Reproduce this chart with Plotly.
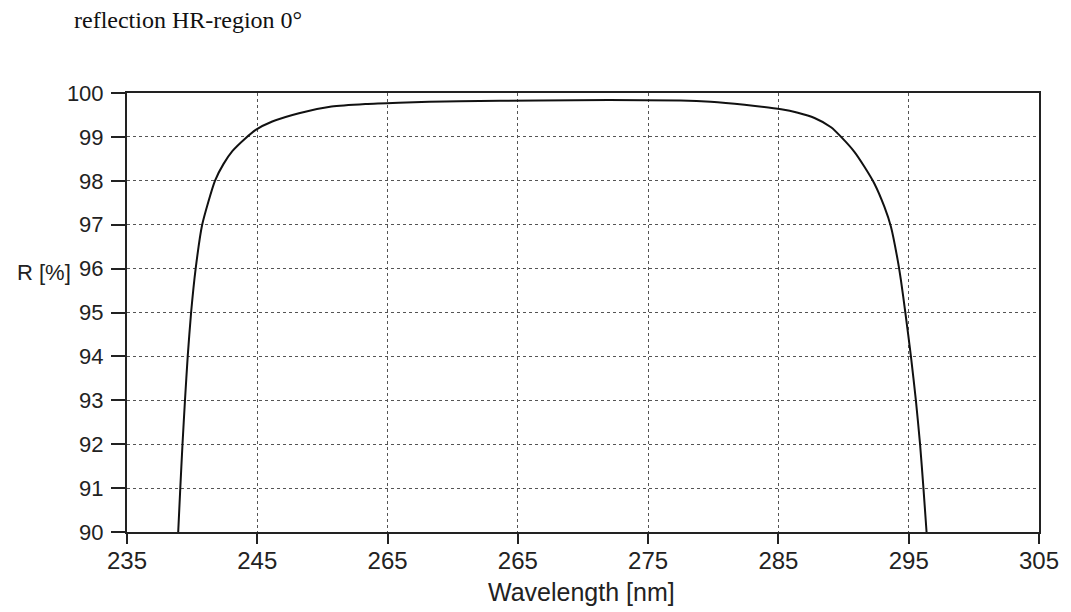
import plotly.graph_objects as go

# Wavelength [nm] and reflectance R [%]
wavelength = [238.93, 239.09, 239.26, 239.45, 239.66, 239.92, 240.27, 240.77,
              241.75, 242.4, 243.1, 244.1, 244.88, 246.15, 248.2, 250.7, 253.3,
              255.85, 258.2, 260.5, 266.6, 272.0, 277.5, 279.8, 282.4, 285.21,
              286.49, 287.77, 289.04, 289.81, 290.83, 291.6, 292.36, 293.13,
              293.64, 294.15, 294.4, 294.74, 295.17, 295.55, 295.87, 296.13, 296.37]
reflectance = [90.0, 91.0, 92.0, 93.0, 94.0, 95.0, 96.0, 97.0,
               98.0, 98.38, 98.68, 98.97, 99.16, 99.35, 99.54, 99.69, 99.75,
               99.78, 99.80, 99.81, 99.83, 99.84, 99.83, 99.80, 99.73, 99.63,
               99.55, 99.43, 99.22, 99.0, 98.66, 98.32, 97.94, 97.41,
               96.95, 96.2, 95.74, 95.0, 94.0, 93.0, 92.0, 91.0, 90.0]

x_tickvals = [235, 245, 255, 265, 275, 285, 295, 305]
x_ticktext = ["235", "245", "265", "265", "275", "285", "295", "305"]
y_tickvals = [90, 91, 92, 93, 94, 95, 96, 97, 98, 99, 100]

title_text = "reflection HR-region 0°"
x_title = "Wavelength [nm]"
y_title = "R [%]"

fig = go.Figure()
fig.add_trace(go.Scatter(
    x=wavelength, y=reflectance, mode="lines",
    line=dict(color="#111111", width=2, shape="spline", smoothing=0.6),
    hoverinfo="x+y", showlegend=False,
))

axis_common = dict(
    showline=True, linecolor="#222222", linewidth=2, mirror=True,
    showgrid=True, gridcolor="#555555", gridwidth=1, griddash="dot",
    ticks="outside", tickcolor="#222222", tickwidth=2,
    zeroline=False,
)

L, R, T, B = 127, 29, 93, 80
PW, PH = 1071 - L - R, 612 - T - B

fig.update_layout(
    width=1071, height=612,
    margin=dict(l=L, r=R, t=T, b=B),
    paper_bgcolor="white", plot_bgcolor="white",
    font=dict(family="Liberation Sans, Arial, sans-serif", color="#222222"),
    xaxis=dict(
        range=[235, 305], tickmode="array", tickvals=x_tickvals, ticktext=x_ticktext,
        ticklen=10, tickfont=dict(size=24), ticklabelstandoff=-4, **axis_common,
    ),
    yaxis=dict(
        range=[90, 100], tickmode="array", tickvals=y_tickvals,
        ticklen=14, tickfont=dict(size=22), ticklabelstandoff=3, **axis_common,
    ),
)

fig.add_annotation(text=title_text, xref="paper", yref="paper",
                   x=-(L - 72) / PW, y=1 + (T - 20) / PH,
                   xanchor="left", yanchor="middle", showarrow=False,
                   font=dict(family="Liberation Serif, Times New Roman, serif", size=24, color="#111111"))
fig.add_annotation(text=x_title, xref="paper", yref="paper",
                   x=(583 - L) / PW, y=-(592 - (612 - B)) / PH,
                   xanchor="center", yanchor="middle", showarrow=False,
                   font=dict(size=25, color="#222222"))
fig.add_annotation(text=y_title, xref="paper", yref="paper",
                   x=-(L - 15) / PW, y=((612 - B) - 272) / PH,
                   xanchor="left", yanchor="middle", showarrow=False,
                   font=dict(size=22, color="#222222"))

fig.write_html("out.html", config={"displayModeBar": False},
               post_script="document.body.style.margin='0';document.body.style.padding='0';")
